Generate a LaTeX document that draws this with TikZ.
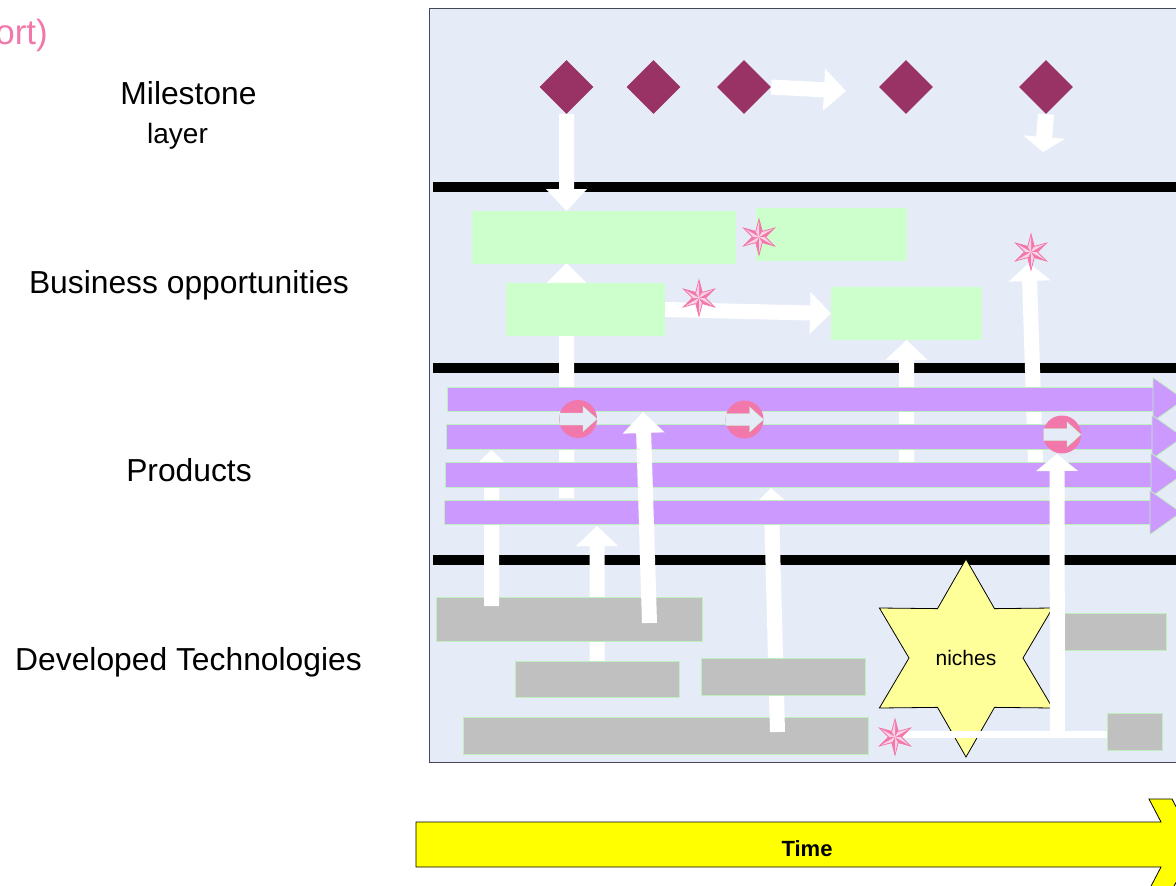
\documentclass[tikz,border=0pt]{standalone}
\usepackage{fontspec}
\setmainfont{Liberation Sans}
\usetikzlibrary{calc,shapes.geometric}
\definecolor{panelbg}{RGB}{230,236,247}
\definecolor{panelline}{RGB}{70,70,90}
\definecolor{diam}{HTML}{993366}
\definecolor{grn}{RGB}{204,255,204}
\definecolor{grnline}{RGB}{190,240,190}
\definecolor{purp}{RGB}{204,153,255}
\definecolor{gry}{RGB}{192,192,192}
\definecolor{pinkc}{RGB}{242,120,172}
\definecolor{pinklt}{RGB}{250,210,228}
\definecolor{nichey}{RGB}{255,255,153}
\definecolor{timey}{RGB}{255,255,0}
\newcommand\barrow[6][white]{%
  \fill[#1] let \p1=(#2), \p2=(#3), \n1={atan2(\y2-\y1,\x2-\x1)} in
    ($(\p1)+({\n1+90}:#4pt)$) --
    ($(\p2)+({\n1+180}:#6pt)+({\n1+90}:#4pt)$) --
    ($(\p2)+({\n1+180}:#6pt)+({\n1+90}:#5pt)$) --
    (\p2) --
    ($(\p2)+({\n1+180}:#6pt)+({\n1-90}:#5pt)$) --
    ($(\p2)+({\n1+180}:#6pt)+({\n1-90}:#4pt)$) --
    ($(\p1)+({\n1-90}:#4pt)$) -- cycle;}
\tikzset{
  box/.style={rectangle, inner sep=0pt, outer sep=0pt},
  gbox/.style={box, fill=grn},
  graybox/.style={box, fill=gry, draw=grnline, line width=0.8pt},
  pbar/.style={box, fill=purp, draw=grnline, line width=0.8pt, minimum width=706pt, minimum height=24.5pt},
  milestone/.style={diamond, fill=diam, inner sep=0pt, minimum width=54pt, minimum height=54pt},
  proc/.style={circle, fill=pinkc, inner sep=0pt, minimum size=38pt},
  lbl/.style={font=\fontsize{31.8}{36}\selectfont, anchor=base, inner sep=0pt},
  sstar/.pic={
    \foreach \k in {0,...,5}{
      \fill[pinkc] (0,0) -- ({\k*60+90}:18) -- ({\k*60+120}:6.5) -- cycle;
      \fill[pinklt] (0,0) -- ({\k*60+90}:18) -- ({\k*60+60}:6.5) -- cycle;
    }
    \draw[pinkc, line width=0.8pt] (90:18) -- (120:6.5) -- (150:18) -- (180:6.5) -- (210:18) -- (240:6.5) -- (270:18) -- (300:6.5) -- (330:18) -- (0:6.5) -- (30:18) -- (60:6.5) -- cycle;
  }
}
\begin{document}
\begin{tikzpicture}[x=1pt,y=-1pt]
\useasboundingbox (0,0) rectangle (1176,886);
\clip (0,0) rectangle (1176,886);

% panel and layer separators
\filldraw[fill=panelbg, draw=panelline, line width=1pt] (429,8) rectangle (1210,762);
\foreach \yy in {187,368,560} \draw[line width=9.5pt] (433,\yy) -- (1210,\yy);

% coordinates for connector ends
\coordinate (t2s) at (597,664);   \coordinate (t2e) at (597,526);
\coordinate (t4s) at (777.5,732); \coordinate (t4e) at (771,488);
\coordinate (t1s) at (491.5,606); \coordinate (t1e) at (491.5,450);
\coordinate (b1s) at (566.5,498); \coordinate (b1e) at (566.5,263);
\coordinate (b3s) at (906.5,462); \coordinate (b4s) at (1035.5,462);
\coordinate (b4e) at (1029,263);
\coordinate (t3s) at (649.5,623); \coordinate (t3e) at (643,412);
\coordinate (t5s) at (1057.5,738); \coordinate (t5e) at (1057,454);
\coordinate (a2e) at (846,91);
\coordinate (a3e) at (1043,152);
\coordinate (s1) at (759,237); \coordinate (s2) at (699,298);
\coordinate (s3) at (1031,252); \coordinate (s4) at (895,737);
\coordinate (nc) at (966,658);

% technologies layer (back)
\barrow{t2s}{t2e}{7.5}{21}{20}
\node[graybox, minimum width=405pt, minimum height=37pt] (r4) at (665.5,735.5) {};
\barrow{t4s}{t4e}{7.5}{21}{20}
\node[graybox, minimum width=266pt, minimum height=44pt] (r1) at (569,619) {};
\node[graybox, minimum width=164pt, minimum height=36pt] (r2) at (597,679) {};
\node[graybox, minimum width=164pt, minimum height=37pt] (r3) at (783,676.5) {};
\node[graybox, minimum width=112pt, minimum height=37pt] (r5) at (1110,631.5) {};
\node[graybox, minimum width=55pt, minimum height=37pt] (r6) at (1134.5,731.5) {};
\barrow{t1s}{t1e}{7.5}{21}{20}

% business layer
\barrow{b1s}{b1e}{7.5}{20}{20}
\node[gbox, minimum width=264pt, minimum height=53pt] (g1) at (604,237.5) {};
\node[gbox, minimum width=151pt, minimum height=53pt] (g2) at (831.5,234.5) {};
\node[gbox, minimum width=159pt, minimum height=53pt] (g3) at (585.5,309.5) {};
\node[gbox, minimum width=151pt, minimum height=53pt] (g4) at (906.5,313.5) {};
\barrow{b3s}{g4.south}{7.5}{21}{20}
\barrow{b4s}{b4e}{7.5}{21}{18}
\barrow{g3.east}{g4.west}{7.5}{21}{21}

% milestones
\node[milestone] (d1) at (566.5,87) {};
\node[milestone] (d2) at (653.5,87) {};
\node[milestone] (d3) at (744,87) {};
\node[milestone] (d4) at (906,87) {};
\node[milestone] (d5) at (1046,87) {};
\barrow{d1.south}{d1.south |- g1.north}{7.5}{20.5}{22}
\barrow{d3.east}{a2e}{7.5}{21}{22}
\barrow{d5.south}{a3e}{8}{21}{15}

% product bars
\node[pbar] (p1) at (800,399.5) {};
\node[pbar] (p2) at (799,437) {};
\node[pbar] (p3) at (798,475) {};
\node[pbar] (p4) at (797,512.5) {};
\foreach \p in {p1,p2,p3,p4}
  \filldraw[fill=purp, draw=grnline, line width=0.8pt]
    ($(\p.east)+(0,-22)$) -- ($(\p.east)+(31,0)$) -- ($(\p.east)+(0,22)$) -- cycle;

% process circles
\node[proc] (c1) at (578,419) {};
\node[proc] (c2) at (744.5,419.5) {};
\node[proc] (c3) at (1062,434.5) {};
\foreach \c in {c1,c2,c3}
  \filldraw[fill=panelbg, draw=grnline, line width=0.4pt, shift={(\c.center)}]
    (-18.5,-6) -- (5,-6) -- (5,-12.5) -- (19,0) -- (5,12.5) -- (5,6) -- (-18.5,6) -- cycle;

% niches star
\filldraw[fill=nichey, draw=black, line width=0.8pt, shift={(nc)}]
  (90:99) -- (120:57) -- (150:100) -- (180:57) -- (210:100) -- (240:57) -- (270:99) -- (300:57) -- (330:100) -- (0:57) -- (30:100) -- (60:57) -- cycle;
\node[font=\fontsize{21}{25}\selectfont] (niches) at (nc) {niches};

% front connectors
\barrow{t3s}{t3e}{7.5}{21}{21}
\fill[white] ($(s4)+(0,-6.5)$) rectangle ($(r6.west)+(0,6.5)$);
\barrow{t5s}{t5e}{7.5}{21}{17}

% small stars
\pic at (s1) {sstar};
\pic at (s2) {sstar};
\pic at (s3) {sstar};
\pic at (s4) {sstar};

% time arrow
\filldraw[fill=timey, draw=black, line width=0.8pt]
  (416,822) -- (1161,822) -- (1149,799) -- (1172,799) -- (1196,844.5) -- (1172,890) -- (1149,890) -- (1161,867) -- (416,867) -- cycle;
\node[font=\bfseries\fontsize{22}{26}\selectfont] (time) at (807,849) {Time};

% labels
\node[font=\fontsize{35}{40}\selectfont, text=pinkc, anchor=base east, inner sep=0pt] (title) at (48,45) {ort)};
\node[lbl] (lm) at (188.5,104) {Milestone};
\node[lbl, font=\fontsize{28}{32}\selectfont] (ll) at (177.5,143) {layer};
\node[lbl] (lb) at (189,293) {Business opportunities};
\node[lbl] (lp) at (189,481) {Products};
\node[lbl] (lt) at (188.5,670) {Developed Technologies};
\end{tikzpicture}
\end{document}
